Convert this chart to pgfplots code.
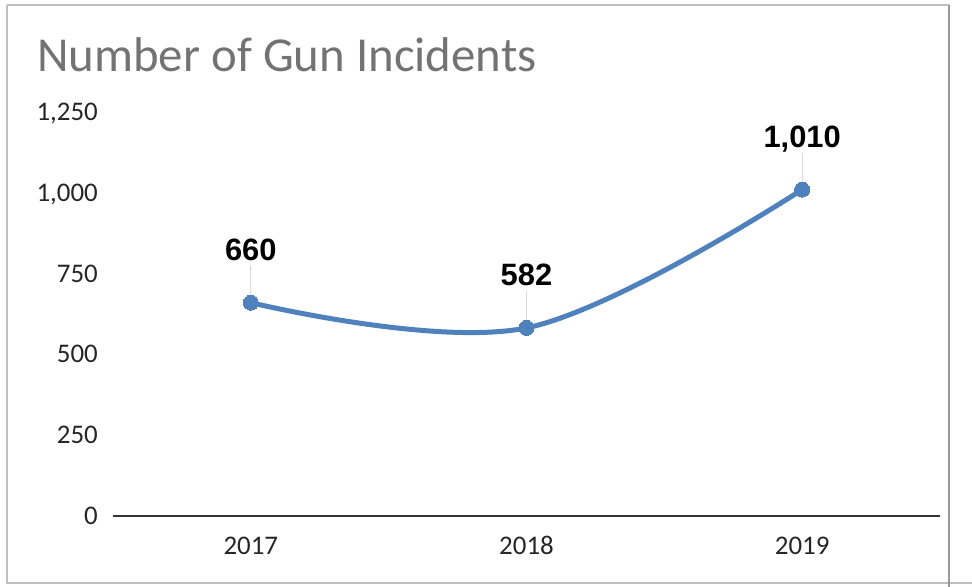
\documentclass[border=0pt]{standalone}
\usepackage{fontspec}
\setmainfont{Carlito}
\newfontfamily\lab{Liberation Sans}
\usepackage{pgfplots}
\pgfplotsset{compat=1.18}

\definecolor{lineblue}{HTML}{4F81BD}
\definecolor{titlegray}{HTML}{737373}
\definecolor{framegray}{HTML}{BFBFBF}

\begin{document}
\begin{tikzpicture}
\useasboundingbox (0,0) rectangle (972bp,587bp);
% chart frame
\draw[framegray, line width=1.5bp] (7bp,582bp) -- (949bp,582bp);
\draw[framegray, line width=1.5bp] (7bp,582bp) -- (7bp,4bp) -- (972bp,4bp);
\draw[black!40, line width=2bp] (949bp,582bp) -- (949bp,0bp);

\node[anchor=base west, inner sep=0, text=titlegray,
      font=\fontsize{49}{49}\selectfont] at (37bp,515bp) {Number of Gun Incidents};

\begin{axis}[
    scale only axis,
    width=827bp, height=404bp,
    at={(113bp,71bp)}, anchor=south west,
    xmin=-0.5, xmax=2.5, ymin=0, ymax=1250,
    xtick={0,1,2}, xticklabels={2017,2018,2019},
    ytick={0,250,500,750,1000,1250},
    major tick length=0pt,
    axis x line*=bottom, axis y line*=left,
    x axis line style={black!80, line width=2bp, -},
    y axis line style={draw=none},
    /pgf/number format/.cd, 1000 sep={,}, assume math mode=true,
    /pgfplots/.cd,
    tick label style={font=\fontsize{27}{27}\selectfont, text=black!85, inner sep=0pt},
    yticklabel style={anchor=base east, xshift=-15bp, yshift=-8.5bp},
    xticklabel style={anchor=base, yshift=-38bp},
    clip=false,
]
% leader lines from the points to their labels
\draw[black!15, line width=1bp] ([yshift=7bp]axis cs:0,660) -- ([yshift=37bp]axis cs:0,660);
\draw[black!15, line width=1bp] ([yshift=7bp]axis cs:1,582) -- ([yshift=37bp]axis cs:1,582);
\draw[black!15, line width=1bp] ([yshift=7bp]axis cs:2,1010) -- ([yshift=37bp]axis cs:2,1010);
\addplot[lineblue, line width=5bp, smooth, tension=0.6,
         mark=*, mark size=7.5bp, mark options={fill=lineblue, draw=lineblue, line width=0pt},
         nodes near coords={\pgfmathprintnumber\pgfplotspointmeta},
         every node near coord/.append style={anchor=base, yshift=42bp, text=black,
            inner sep=0pt, font=\lab\bfseries\fontsize{31}{31}\selectfont}]
coordinates {(0,660) (1,582) (2,1010)};
\end{axis}
\end{tikzpicture}
\end{document}
